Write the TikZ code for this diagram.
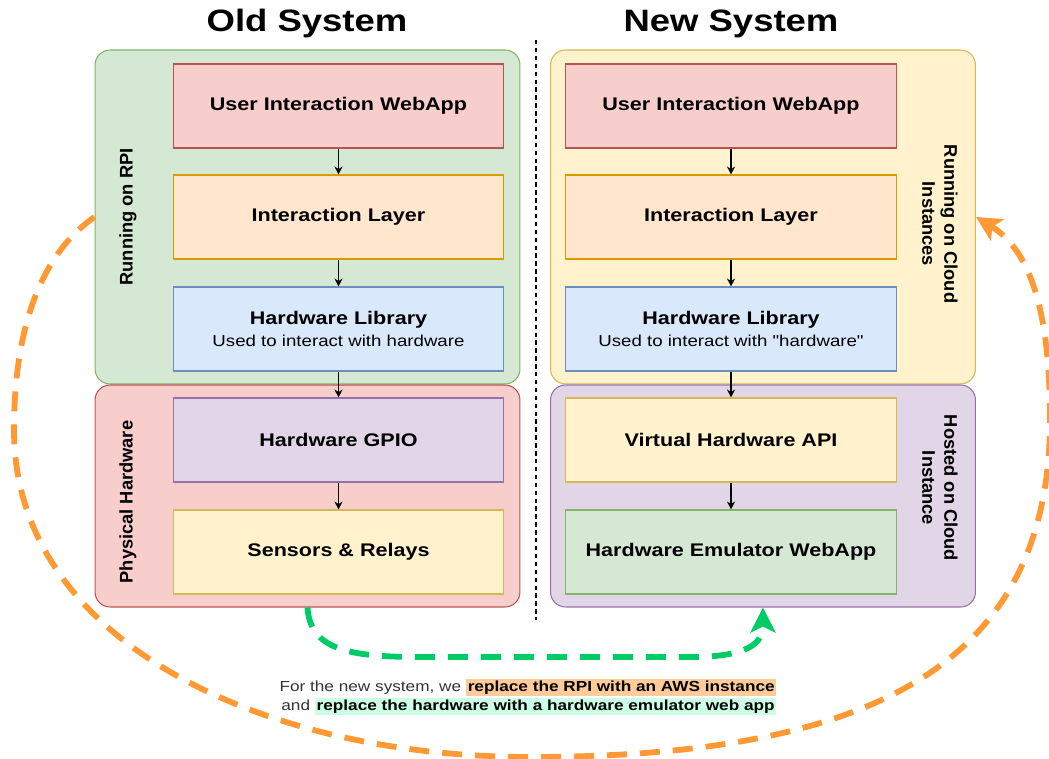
\documentclass[tikz,border=0pt]{standalone}
\usepackage{fontspec}
\setmainfont{Liberation Sans}[FakeStretch=1.18]
\newfontfamily\sidefont{Liberation Sans}
\newfontfamily\quotefont{Liberation Sans}[FakeStretch=1.18]
\usetikzlibrary{arrows.meta}

\definecolor{greenFill}{HTML}{D5E8D4}
\definecolor{greenLine}{HTML}{82B366}
\definecolor{redFill}{HTML}{F8CECC}
\definecolor{redLine}{HTML}{B85450}
\definecolor{orangeFill}{HTML}{FFE6CC}
\definecolor{orangeLine}{HTML}{D79B00}
\definecolor{blueFill}{HTML}{DAE8FC}
\definecolor{blueLine}{HTML}{6C8EBF}
\definecolor{purpleFill}{HTML}{E1D5E7}
\definecolor{purpleLine}{HTML}{9673A6}
\definecolor{yellowFill}{HTML}{FFF2CC}
\definecolor{yellowLine}{HTML}{D6B656}
\definecolor{swapOrange}{HTML}{FF9933}
\definecolor{swapGreen}{HTML}{00CC66}
\definecolor{hlOrange}{HTML}{FFCC99}
\definecolor{hlGreen}{HTML}{CCFFE6}

\setlength{\fboxsep}{1pt}

\tikzset{
  container/.style={draw, rounded corners=0.3cm, line width=0.6pt, minimum width=8.5cm},
  box/.style={draw, line width=0.6pt, minimum width=6.62cm, minimum height=1.68cm,
    align=center, font=\fontsize{10.4}{12.5}\selectfont\bfseries},
  sidelabel/.style={align=center, font=\sidefont\fontsize{10.4}{12.5}\selectfont\bfseries},
  title/.style={font=\fontsize{17.6}{20}\selectfont\bfseries},
  flow/.style={-{Stealth[length=4.5pt,width=4.5pt]}, line width=0.6pt},
  swap/.style={line width=3.3pt, dash pattern=on 0.4cm off 0.26cm,
    -{Stealth[length=0.5cm,width=0.5cm,inset=0.12cm]}},
  divider/.style={line width=0.8pt, dash pattern=on 2.5pt off 2pt}
}

\newcommand{\subline}[1]{{\mdseries\fontsize{9}{11}\selectfont #1}}

\begin{document}
\begin{tikzpicture}[x=0.02cm, y=-0.02cm]
  \useasboundingbox (0,0) rectangle (1049,759);

  \node [title] (oldTitle) at (307,24) {Old System};
  \node [title] (newTitle) at (731,24) {New System};

  \node [container, fill=greenFill, draw=greenLine, minimum height=6.68cm] (rpi) at (307.5,217) {};
  \node [container, fill=redFill, draw=redLine, minimum height=4.44cm] (physHw) at (307.5,496) {};
  \node [container, fill=yellowFill, draw=yellowLine, minimum height=6.68cm] (cloud) at (763,217) {};
  \node [container, fill=purpleFill, draw=purpleLine, minimum height=4.44cm] (emuHost) at (763,496) {};

  \node [sidelabel, rotate=90] (rpiLabel) at (128,217) {Running on RPI};
  \node [sidelabel, rotate=90] (hwLabel) at (128,502) {Physical Hardware};
  \node [sidelabel, rotate=-90] (cloudLabel) at (940,224) {Running on Cloud\\Instances};
  \node [sidelabel, rotate=-90] (hostLabel) at (940,488) {Hosted on Cloud\\Instance};

  \node [box, fill=redFill, draw=redLine] (oldUi) at (338.5,106) {User Interaction WebApp};
  \node [box, fill=orangeFill, draw=orangeLine] (oldIl) at (338.5,217) {Interaction Layer};
  \node [box, fill=blueFill, draw=blueLine] (oldLib) at (338.5,329) {Hardware Library\\\subline{Used to interact with hardware}};
  \node [box, fill=purpleFill, draw=purpleLine] (gpio) at (338.5,440) {Hardware GPIO};
  \node [box, fill=yellowFill, draw=yellowLine] (sensors) at (338.5,552) {Sensors \& Relays};

  \node [box, fill=redFill, draw=redLine] (newUi) at (731,106) {User Interaction WebApp};
  \node [box, fill=orangeFill, draw=orangeLine] (newIl) at (731,217) {Interaction Layer};
  \node [box, fill=blueFill, draw=blueLine] (newLib) at (731,329) {Hardware Library\\\subline{Used to interact with {\quotefont"}hardware{\quotefont"}}};
  \node [box, fill=yellowFill, draw=yellowLine] (vApi) at (731,440) {Virtual Hardware API};
  \node [box, fill=greenFill, draw=greenLine] (emuApp) at (731,552) {Hardware Emulator WebApp};

  \draw [flow] (oldUi) -- (oldIl);
  \draw [flow] (oldIl) -- (oldLib);
  \draw [flow] (oldLib) -- (gpio);
  \draw [flow] (gpio) -- (sensors);
  \draw [flow] (newUi) -- (newIl);
  \draw [flow] (newIl) -- (newLib);
  \draw [flow] (newLib) -- (vApi);
  \draw [flow] (vApi) -- (emuApp);

  \coordinate (divTop) at (536,40);
  \coordinate (divBot) at (536,620);
  \draw [divider] (divTop) -- (divBot);

  \draw [swap, swapGreen] (physHw.south) .. controls (310,650) and (350,657) .. (420,657)
    -- (690,657) .. controls (745,657) and (763,645) .. (emuHost.south);

  \draw [swap, swapOrange] (rpi.west) .. controls (40,255) and (14,330) .. (14,430)
    .. controls (14,640) and (260,757) .. (530,757)
    .. controls (880,757) and (1050,660) .. (1050,420)
    .. controls (1050,310) and (1030,250) .. (cloud.east);

  \node [align=right, text=black!80, font=\fontsize{8.3}{9.7}\selectfont] (note) at (528,697)
    {For the new system, we \colorbox{hlOrange}{\textcolor{black}{\textbf{replace the RPI with an AWS instance}}}\\
     and \colorbox{hlGreen}{\textcolor{black}{\textbf{replace the hardware with a hardware emulator web app}}}};
\end{tikzpicture}
\end{document}
